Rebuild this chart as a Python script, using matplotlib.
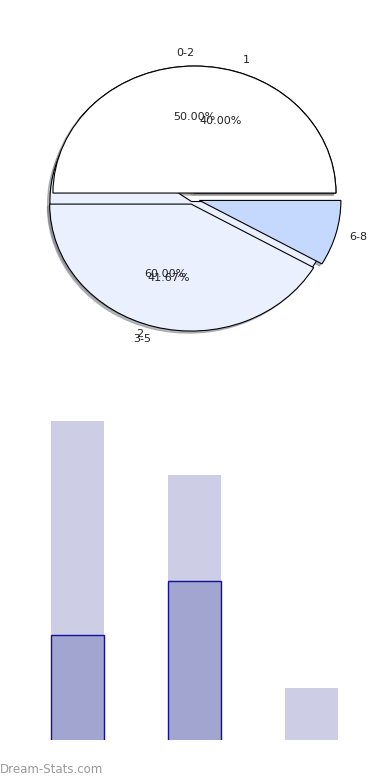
import matplotlib
matplotlib.use("Agg")
import matplotlib.pyplot as plt

# data
groups = ["0-2", "3-5", "6-8"]
group_counts = [6, 5, 1]
sub_labels = ["1", "2"]
sub_counts = [2, 3]
bar_light = [6, 5, 1]
bar_dark = [2, 3, 0]

fig = plt.figure(figsize=(3.9, 7.8), dpi=100)

# pie part: two pies drawn into the same axes, one under the other
ax1 = fig.add_axes([0.0451, 0.549, 0.907, 0.407])


def pct(p):
    return "%.2f%%" % p if p > 10 else ""


shadow = dict(ox=-0.012, oy=-0.012, shade=0.5)
edge = dict(edgecolor="black", linewidth=0.8)

ax1.pie(sub_counts, labels=sub_labels, colors=["white", "#eaf0fe"],
        explode=(0, 0.07), shadow=shadow, autopct=pct,
        wedgeprops=edge, textprops=dict(fontsize=8, color="#222222"))
wedges, texts, autotexts = ax1.pie(
    group_counts, labels=groups, colors=["white", "#eaf0fe", "#c5d8fe"],
    explode=(0, 0.09, 0), shadow=shadow, autopct=pct,
    wedgeprops=edge, textprops=dict(fontsize=8, color="#222222"))

# the small slice is pulled out down-right, not along its middle angle
dx, dy = 0.035, -0.058
wedges[2].set_center((dx, dy))
tx, ty = texts[2].get_position()
texts[2].set_position((tx + dx, ty + dy))

ax1.set_aspect("auto")
ax1.set_xlim(-1.25, 1.25)
ax1.set_ylim(-1.25, 1.25)

# bar part: light bars behind, dark bars on top
ax2 = fig.add_axes([0.0187, 0.0513, 0.9603, 0.4288])
x = range(len(groups))
ax2.bar(x, bar_light, width=0.45, color="#cdcde5")
ax2.bar(x, bar_dark, width=0.45, color="#a3a5d1", edgecolor="#10109a",
        linewidth=1)
ax2.set_xlim(-0.6, 2.6)
ax2.set_ylim(0.02, 6.3)
ax2.axis("off")

fig.text(0.0, 0.013, "Dream-Stats.com", fontsize=8.5, color="#999999",
         ha="left", va="center")

fig.savefig("out.png", dpi=100)
plt.close()
